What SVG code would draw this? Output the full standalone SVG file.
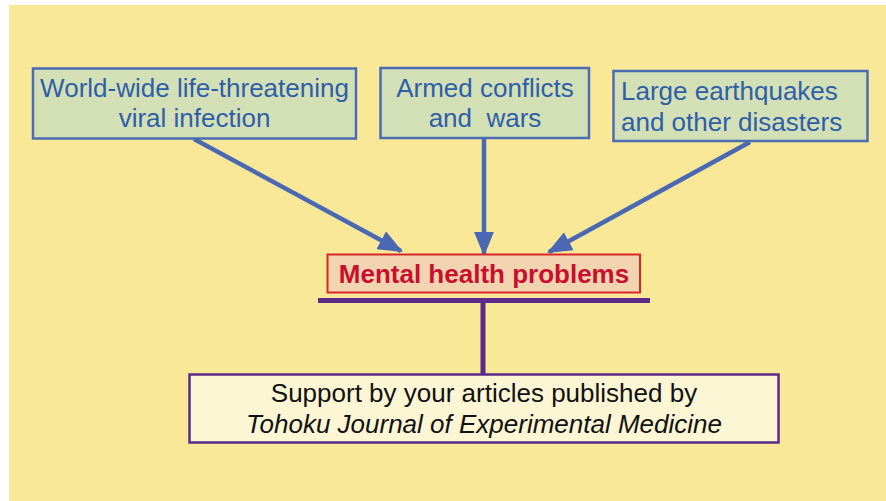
<svg xmlns="http://www.w3.org/2000/svg" width="886" height="501" viewBox="0 0 886 501">
<defs>
<style>
.src rect{fill:#D3E0B5;stroke:#4A6CB5;stroke-width:2.5}
.src text{font-family:"Liberation Sans",Arial,sans-serif;font-size:26px;fill:#2E5EAA}
.c{text-anchor:middle}
.arrow{stroke:#4A68B4;stroke-width:4.5;fill:none}
.purple{stroke:#5C2A8A;fill:none}
</style>
<marker id="ah" markerWidth="5.5" markerHeight="4.5" refX="5" refY="2.25" orient="auto" markerUnits="strokeWidth">
<path d="M0,0 L5.5,2.25 L0,4.5 Z" fill="#4A68B4"/>
</marker>
</defs>
<rect x="9" y="5" width="877" height="496" fill="#F8E897"/>
<g id="connectors">
<line class="arrow" x1="194" y1="139" x2="401" y2="251" marker-end="url(#ah)"/>
<line class="arrow" x1="484" y1="138" x2="484" y2="254" marker-end="url(#ah)"/>
<line class="arrow" x1="750" y1="142" x2="549" y2="252" marker-end="url(#ah)"/>
<line class="purple" x1="318" y1="300.5" x2="650" y2="300.5" stroke-width="5"/>
<line class="purple" x1="483" y1="300" x2="483" y2="374" stroke-width="5"/>
</g>
<g id="n1" class="src">
<rect x="33" y="68.5" width="323" height="70"/>
<text class="c" x="194.5" y="97">World-wide life-threatening</text>
<text class="c" x="194.5" y="127">viral infection</text>
</g>
<g id="n2" class="src">
<rect x="380.5" y="68" width="208.5" height="70"/>
<text class="c" x="485" y="97">Armed conflicts</text>
<text class="c" x="485" y="127" xml:space="preserve">and  wars</text>
</g>
<g id="n3" class="src">
<rect x="613.5" y="71" width="254" height="70"/>
<text x="621" y="100">Large earthquakes</text>
<text x="621" y="131">and other disasters</text>
</g>
<g id="n4">
<rect x="327.5" y="254.5" width="312.5" height="38" fill="#F3D4B0" stroke="#D8262A" stroke-width="2"/>
<text x="484" y="283" text-anchor="middle" font-family="'Liberation Sans',Arial,sans-serif" font-size="26" font-weight="bold" fill="#C8102E">Mental health problems</text>
</g>
<g id="n5">
<rect x="189.5" y="374.5" width="589" height="68" fill="#FDF6D5" stroke="#5C2A8A" stroke-width="2.5"/>
<text x="484" y="402" text-anchor="middle" font-family="'Liberation Sans',Arial,sans-serif" font-size="26" fill="#111">Support by your articles published by</text>
<text x="484" y="433" text-anchor="middle" font-family="'Liberation Sans',Arial,sans-serif" font-size="26" font-style="italic" fill="#111">Tohoku Journal of Experimental Medicine</text>
</g>
</svg>
